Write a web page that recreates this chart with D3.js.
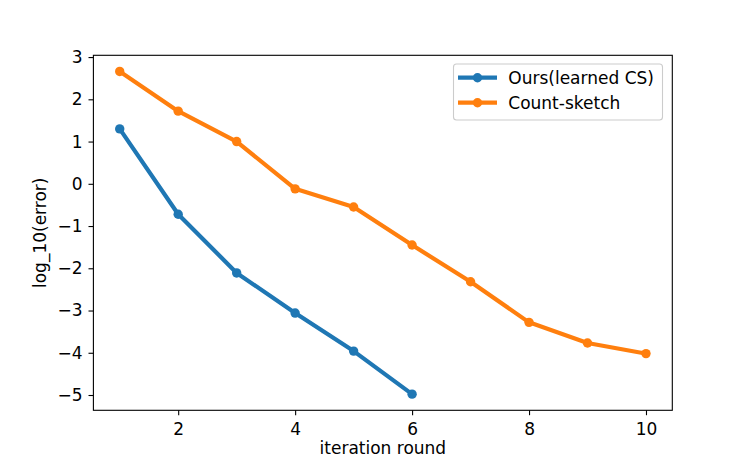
<!DOCTYPE html>
<html>
<head>
<meta charset="utf-8">
<script src="https://cdn.jsdelivr.net/npm/d3@7"></script>
<style>
  body { margin: 0; background: #fff; }
  text { font-family: "DejaVu Sans", sans-serif; }
</style>
</head>
<body>
<svg id="chart" width="747" height="461"></svg>
<script>
const rounds = [1, 2, 3, 4, 5, 6, 7, 8, 9, 10];
const oursErr = [1.30, -0.72, -2.11, -3.06, -3.96, -4.98];
const countSketchErr = [2.66, 1.72, 1.00, -0.12, -0.55, -1.45, -2.32, -3.28, -3.77, -4.02];
const seriesNames = ["Ours(learned CS)", "Count-sketch"];
const xTicks = [2, 4, 6, 8, 10];
const yTicks = [-5, -4, -3, -2, -1, 0, 1, 2, 3];

const colors = ["#1f77b4", "#ff7f0e"];
const fontSize = '17px';
const m = { left: 93.4, right: 672.3, top: 55.3, bottom: 410.3 };

const svg = d3.select('#chart');

const x = d3.scaleLinear().domain([0.55, 10.45]).range([m.left, m.right]);
const y = d3.scaleLinear().domain([-5.362, 3.042]).range([m.bottom, m.top]);

// axes
const xAxis = d3.axisBottom(x).tickValues(xTicks).tickSize(4.9).tickPadding(7.5).tickFormat(d3.format('d'));
const yAxis = d3.axisLeft(y).tickValues(yTicks).tickSize(4.9).tickPadding(6)
  .tickFormat(d => d < 0 ? '\u2212' + Math.abs(d) : d);

svg.append('g').attr('transform', `translate(0,${m.bottom})`).call(xAxis)
  .call(g => g.select('.domain').remove());
svg.append('g').attr('transform', `translate(${m.left},0)`).call(yAxis)
  .call(g => g.select('.domain').remove());

svg.selectAll('.tick line').attr('stroke', '#000').attr('stroke-width', 1.1);
svg.selectAll('.tick text').attr('font-size', fontSize).attr('fill', '#000')
  .attr('font-family', '"DejaVu Sans", sans-serif');

// frame
svg.append('rect')
  .attr('x', m.left).attr('y', m.top)
  .attr('width', m.right - m.left).attr('height', m.bottom - m.top)
  .attr('fill', 'none').attr('stroke', '#000').attr('stroke-width', 1.1);

// series
const series = [
  rounds.slice(0, oursErr.length).map((r, i) => ({ x: r, y: oursErr[i] })),
  rounds.map((r, i) => ({ x: r, y: countSketchErr[i] }))
];

const line = d3.line().x(d => x(d.x)).y(d => y(d.y));

series.forEach(function(data, idx) {
  svg.append('path')
    .datum(data)
    .attr('d', line)
    .attr('fill', 'none')
    .attr('stroke', colors[idx])
    .attr('stroke-width', 4.2)
    .attr('stroke-linejoin', 'round')
    .attr('stroke-linecap', 'square');

  svg.selectAll(`.pt-${idx}`)
    .data(data)
    .enter().append('circle')
    .attr('class', `pt-${idx}`)
    .attr('cx', d => x(d.x))
    .attr('cy', d => y(d.y))
    .attr('r', 4.7)
    .attr('fill', colors[idx]);
});

// axis labels
svg.append('text')
  .attr('x', (m.left + m.right) / 2).attr('y', 454)
  .attr('text-anchor', 'middle').attr('font-size', fontSize)
  .text('iteration round');

svg.append('text')
  .attr('transform', `translate(45.6,${(m.top + m.bottom) / 2}) rotate(-90)`)
  .attr('text-anchor', 'middle').attr('font-size', fontSize)
  .text('log_10(error)');

// legend
const legend = svg.append('g');
legend.append('rect')
  .attr('x', 453.5).attr('y', 64)
  .attr('width', 209).attr('height', 56)
  .attr('rx', 3).attr('ry', 3)
  .attr('fill', '#fff').attr('fill-opacity', 0.8)
  .attr('stroke', '#cccccc').attr('stroke-width', 1.1);

let legendY = 77.7;
seriesNames.forEach(function(name, idx) {
  legend.append('line')
    .attr('x1', 458).attr('x2', 497)
    .attr('y1', legendY).attr('y2', legendY)
    .attr('stroke', colors[idx]).attr('stroke-width', 4.2);
  legend.append('circle')
    .attr('cx', 477.5).attr('cy', legendY).attr('r', 4.7)
    .attr('fill', colors[idx]);
  legend.append('text')
    .attr('x', 508.3).attr('y', legendY)
    .attr('dy', '0.36em')
    .attr('font-size', fontSize)
    .text(name);
  legendY += 25;
});
</script>
</body>
</html>
